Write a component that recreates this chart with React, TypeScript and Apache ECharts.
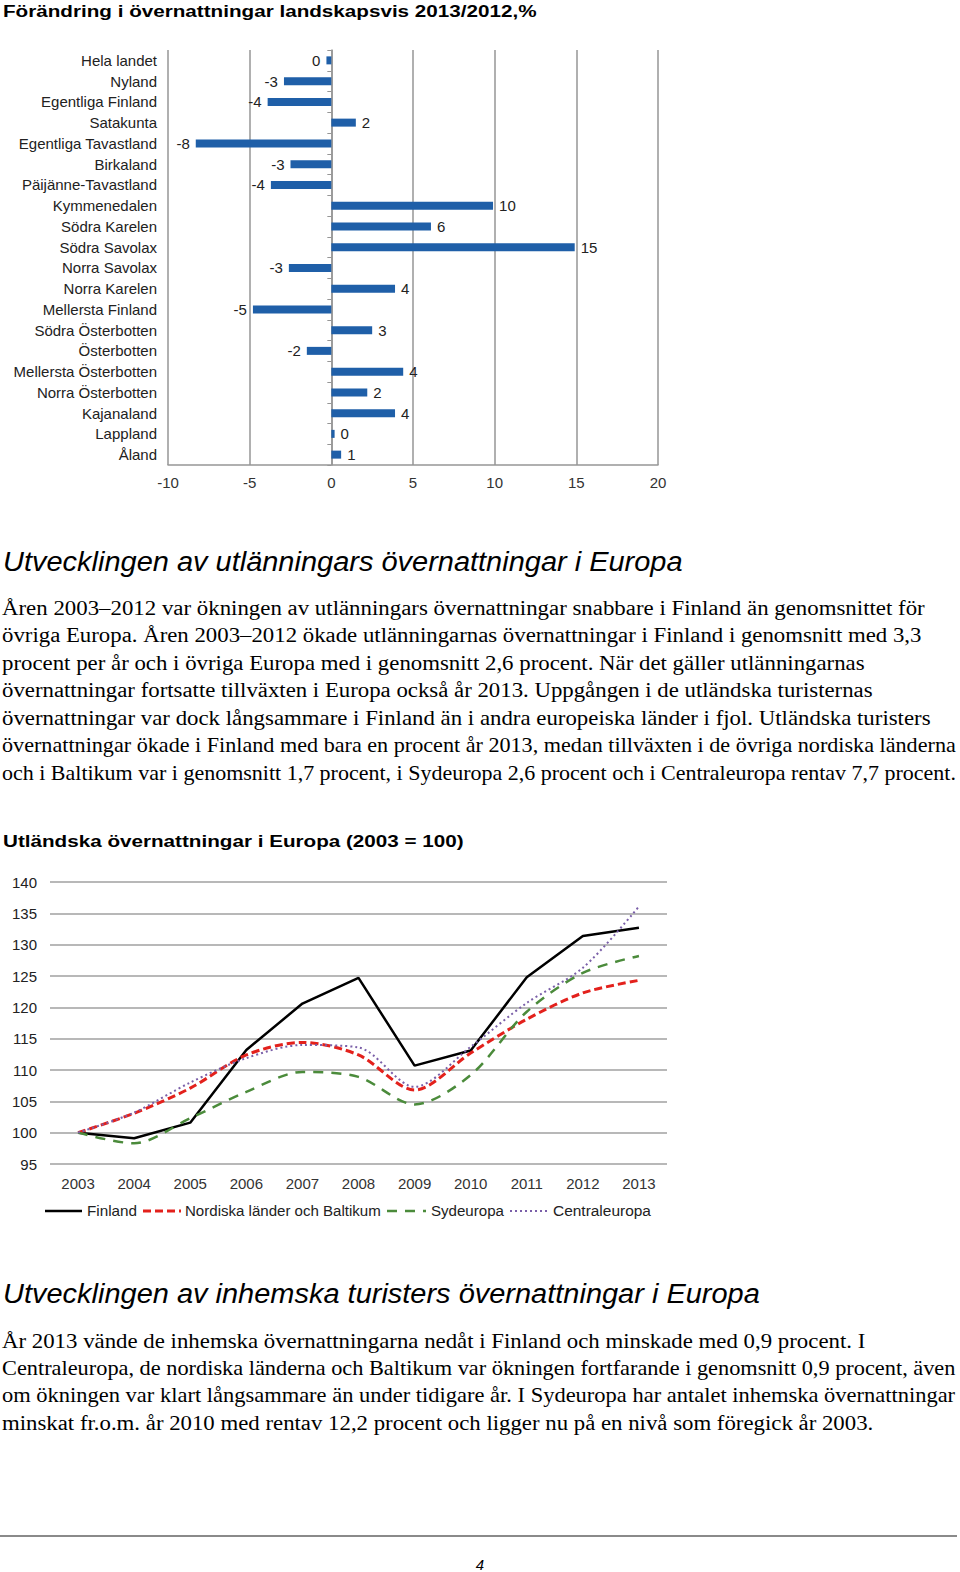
import React, { useEffect, useRef } from 'react';
import * as echarts from 'echarts';

const barTitle = 'Förändring i övernattningar landskapsvis 2013/2012,%';
const barCategories = ['Hela landet', 'Nyland', 'Egentliga Finland', 'Satakunta', 'Egentliga Tavastland', 'Birkaland', 'Päijänne-Tavastland', 'Kymmenedalen', 'Södra Karelen', 'Södra Savolax', 'Norra Savolax', 'Norra Karelen', 'Mellersta Finland', 'Södra Österbotten', 'Österbotten', 'Mellersta Österbotten', 'Norra Österbotten', 'Kajanaland', 'Lappland', 'Åland'];
const barValues = [-0.3, -2.9, -3.9, 1.5, -8.3, -2.5, -3.7, 9.9, 6.1, 14.9, -2.6, 3.9, -4.8, 2.5, -1.5, 4.4, 2.2, 3.9, 0.2, 0.6];
const barLabels = ['0', '-3', '-4', '2', '-8', '-3', '-4', '10', '6', '15', '-3', '4', '-5', '3', '-2', '4', '2', '4', '0', '1'];

const heading1 = 'Utvecklingen av utlänningars övernattningar i Europa';
const para1 = [
  'Åren 2003–2012 var ökningen av utlänningars övernattningar snabbare i Finland än genomsnittet för',
  'övriga Europa. Åren 2003–2012 ökade utlänningarnas övernattningar i Finland i genomsnitt med 3,3',
  'procent per år och i övriga Europa med i genomsnitt 2,6 procent. När det gäller utlänningarnas',
  'övernattningar fortsatte tillväxten i Europa också år 2013. Uppgången i de utländska turisternas',
  'övernattningar var dock långsammare i Finland än i andra europeiska länder i fjol. Utländska turisters',
  'övernattningar ökade i Finland med bara en procent år 2013, medan tillväxten i de övriga nordiska länderna',
  'och i Baltikum var i genomsnitt 1,7 procent, i Sydeuropa 2,6 procent och i Centraleuropa rentav 7,7 procent.',
];
const lineTitle = 'Utländska övernattningar i Europa (2003 = 100)';
const years = ['2003', '2004', '2005', '2006', '2007', '2008', '2009', '2010', '2011', '2012', '2013'];
const seriesNames = ['Finland', 'Nordiska länder och Baltikum', 'Sydeuropa', 'Centraleuropa'];
const finland = [100, 99.1, 101.6, 113.2, 120.6, 124.7, 110.7, 113.1, 124.8, 131.4, 132.7];
const nordiska = [100, 103.1, 107.1, 112.4, 114.4, 112.4, 106.8, 112.7, 118.1, 122.3, 124.3];
const sydeuropa = [100, 98.3, 102.3, 106.5, 109.7, 108.9, 104.5, 109.2, 119.3, 125.5, 128.2];
const centraleuropa = [100, 103.2, 108.0, 111.9, 114.0, 113.6, 107.3, 113.7, 120.7, 126.3, 136.1];

const heading2 = 'Utvecklingen av inhemska turisters övernattningar i Europa';
const para2 = [
  'År 2013 vände de inhemska övernattningarna nedåt i Finland och minskade med 0,9 procent. I',
  'Centraleuropa, de nordiska länderna och Baltikum var ökningen fortfarande i genomsnitt 0,9 procent, även',
  'om ökningen var klart långsammare än under tidigare år. I Sydeuropa har antalet inhemska övernattningar',
  'minskat fr.o.m. år 2010 med rentav 12,2 procent och ligger nu på en nivå som föregick år 2003.',
];
const pageNumber = '4';

const SANS = 'Liberation Sans';
const SERIF = 'Liberation Serif';

// line styles of the four series
const lineColors = ['#000000', '#e3211c', '#4b8b3b', '#7a5fa8'];
const lineWidths = [2.5, 3, 2.5, 2];
const lineDashes: any[] = ['solid', [8, 4], [10, 8], [2, 3]];

// layout (text right edges in the page, legend positions)
const para1Right = [925, 922, 865, 873, 931, 956, 956];
const para2Right = [866, 956, 956, 874];
const legendY = 1211;
const legendLayout = [
  { x1: 45, x2: 82, tx: 87, tw: 50 },
  { x1: 143, x2: 181, tx: 185, tw: 196 },
  { x1: 387, x2: 426, tx: 431, tw: 73 },
  { x1: 510, x2: 548, tx: 553, tw: 98 },
];

let measureCtx: CanvasRenderingContext2D | null = null;
function measure(text: string, font: string): number {
  if (!measureCtx) {
    const c = document.createElement('canvas');
    measureCtx = c.getContext('2d');
  }
  if (!measureCtx) return 0;
  measureCtx.font = font;
  return measureCtx.measureText(text).width;
}

function fitText(text: string, x: number, y: number, size: number, family: string, targetWidth: number, opts: any = {}) {
  const weight = opts.fontWeight || 'normal';
  const style = opts.fontStyle || 'normal';
  const font = `${style} ${weight} ${size}px "${family}"`;
  const w = measure(text, font);
  const s = w > 0 && targetWidth > 0 ? targetWidth / w : 1;
  return {
    type: 'text',
    x,
    y,
    scaleX: s,
    silent: true,
    style: {
      text,
      fontSize: size,
      fontFamily: family,
      fontWeight: weight,
      fontStyle: style,
      fill: opts.fill || '#000',
      verticalAlign: 'middle',
      align: 'left',
    },
  };
}

export default function App() {
  const ref = useRef<HTMLDivElement>(null);
  useEffect(() => {
    if (!ref.current) return;
    const chart = echarts.init(ref.current, null, { renderer: 'svg' });

    const graphics: any[] = [];
    graphics.push(fitText(barTitle, 3, 11, 17, SANS, 534, { fontWeight: 'bold' }));
    graphics.push(fitText(heading1, 3, 561, 28, SANS, 680, { fontStyle: 'italic' }));
    para1.forEach((t, i) => {
      graphics.push(fitText(t, 2, 608 + i * 27.5, 20, SERIF, para1Right[i] - 2));
    });
    graphics.push(fitText(lineTitle, 3, 841, 17, SANS, 461, { fontWeight: 'bold' }));
    seriesNames.forEach((name, i) => {
      const L = legendLayout[i];
      graphics.push({
        type: 'line',
        silent: true,
        shape: { x1: L.x1, y1: legendY, x2: L.x2, y2: legendY },
        style: {
          stroke: lineColors[i],
          lineWidth: lineWidths[i],
          lineDash: lineDashes[i] === 'solid' ? null : lineDashes[i],
        },
      });
      graphics.push(fitText(name, L.tx, legendY, 15, SANS, L.tw, { fill: '#222' }));
    });
    graphics.push(fitText(heading2, 3, 1293, 28, SANS, 757, { fontStyle: 'italic' }));
    para2.forEach((t, i) => {
      graphics.push(fitText(t, 2, 1341 + i * 27.4, 20, SERIF, para2Right[i] - 2));
    });
    graphics.push({
      type: 'line',
      silent: true,
      shape: { x1: 0, y1: 1536, x2: 957, y2: 1536 },
      style: { stroke: '#8a8a8a', lineWidth: 2 },
    });
    graphics.push({
      type: 'text',
      x: 480,
      y: 1564,
      silent: true,
      style: { text: pageNumber, fontSize: 15, fontFamily: SANS, fontStyle: 'italic', fill: '#000', align: 'center', verticalAlign: 'middle' },
    });

    const axisText = { fontFamily: SANS, fontSize: 15, color: '#222' };

    chart.setOption({
      animation: false,
      backgroundColor: '#fff',
      grid: [
        { left: 168, top: 50, width: 490, height: 415 },
        { left: 50, top: 882, width: 617, height: 282 },
      ],
      xAxis: [
        {
          gridIndex: 0,
          type: 'value',
          min: -10,
          max: 20,
          interval: 5,
          axisLine: { show: true, onZero: false, lineStyle: { color: '#969696', width: 1.5 } },
          axisTick: { show: false },
          splitLine: { show: true, lineStyle: { color: '#969696', width: 1.5 } },
          axisLabel: { ...axisText, color: '#333', margin: 10 },
        },
        {
          gridIndex: 1,
          type: 'category',
          data: years,
          boundaryGap: true,
          axisLine: { show: false, onZero: false },
          axisTick: { show: false },
          axisLabel: { ...axisText, color: '#333', margin: 12 },
        },
      ],
      yAxis: [
        {
          gridIndex: 0,
          type: 'category',
          data: barCategories,
          inverse: true,
          axisLine: { show: false, onZero: false },
          axisTick: { show: false },
          axisLabel: { ...axisText, margin: 11 },
          splitLine: { show: false },
        },
        {
          gridIndex: 0,
          type: 'category',
          data: barCategories,
          inverse: true,
          position: 'left',
          axisLine: { show: true, onZero: true, lineStyle: { color: '#969696', width: 1.5 } },
          axisTick: { show: true, length: 4, lineStyle: { color: '#969696' } },
          axisLabel: { show: false },
          splitLine: { show: false },
        },
        {
          gridIndex: 1,
          type: 'value',
          min: 95,
          max: 140,
          interval: 5,
          axisLine: { show: false },
          axisTick: { show: false },
          splitLine: { show: true, lineStyle: { color: '#a0a0a0', width: 1.5 } },
          axisLabel: { ...axisText, margin: 13 },
        },
      ],
      series: [
        {
          type: 'bar',
          name: 'bars',
          xAxisIndex: 0,
          yAxisIndex: 0,
          barWidth: 8,
          itemStyle: { color: '#1f5fa8' },
          data: barValues.map((v) => ({ value: v, label: { position: v < 0 ? 'left' : 'right' } })),
          label: {
            show: true,
            distance: 6,
            fontFamily: SANS,
            fontSize: 15,
            color: '#222',
            formatter: (p: any) => barLabels[p.dataIndex],
          },
        },
        ...[finland, nordiska, sydeuropa, centraleuropa].map((d, i) => ({
          type: 'line',
          name: seriesNames[i],
          xAxisIndex: 1,
          yAxisIndex: 2,
          data: d,
          symbol: 'none',
          smooth: i === 0 ? false : 0.3,
          lineStyle: { color: lineColors[i], width: lineWidths[i], type: lineDashes[i] },
          itemStyle: { color: lineColors[i] },
        })),
      ],
      graphic: graphics,
    });
    return () => chart.dispose();
  }, []);
  return <div ref={ref} style={{ position: 'absolute', left: 0, top: 0, width: 960, height: 1572 }} />;
}
